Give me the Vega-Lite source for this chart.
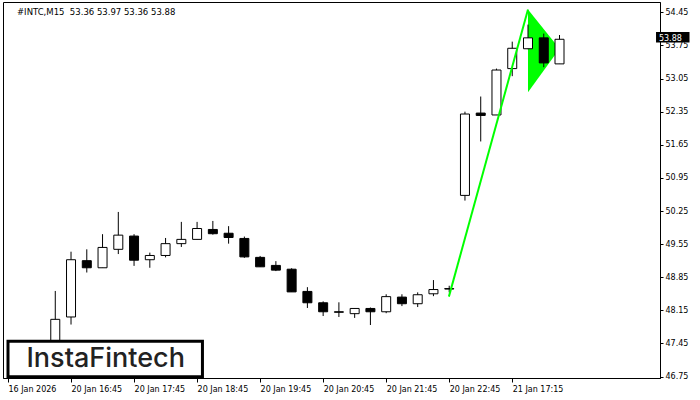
{
  "$schema": "https://vega.github.io/schema/vega-lite/v6.json",
  "width": 657,
  "height": 376,
  "autosize": {"type": "none"},
  "padding": {"left": 3, "top": 2, "right": 40, "bottom": 22},
  "background": "white",
  "view": {"stroke": "black", "strokeWidth": 1},
  "config": {
    "axis": {
      "labelOverlap": false,
      "labelFlush": false,
      "labelFont": "DejaVu Sans",
      "labelFontSize": 8,
      "labelColor": "black",
      "tickColor": "black",
      "domainColor": "black",
      "grid": false,
      "title": null,
      "zindex": 0
    }
  },
  "title": {
    "text": "#INTC,M15\u00a0 53.36 53.97 53.36 53.88",
    "anchor": "start",
    "frame": "group",
    "offset": -14,
    "dx": 14,
    "font": "DejaVu Sans",
    "fontSize": 8.5,
    "fontWeight": "normal",
    "color": "black"
  },
  "datasets": {
    "candles": [
      {"i": 3, "o": 47.30, "h": 48.56, "l": 47.20, "c": 47.96},
      {"i": 4, "o": 48.01, "h": 49.39, "l": 47.85, "c": 49.22},
      {"i": 5, "o": 49.20, "h": 49.44, "l": 48.95, "c": 49.05},
      {"i": 6, "o": 49.05, "h": 49.76, "l": 49.05, "c": 49.48},
      {"i": 7, "o": 49.44, "h": 50.23, "l": 49.34, "c": 49.74},
      {"i": 8, "o": 49.72, "h": 49.76, "l": 49.09, "c": 49.21},
      {"i": 9, "o": 49.22, "h": 49.37, "l": 49.05, "c": 49.31},
      {"i": 10, "o": 49.31, "h": 49.68, "l": 49.27, "c": 49.56},
      {"i": 11, "o": 49.56, "h": 50.02, "l": 49.49, "c": 49.65},
      {"i": 12, "o": 49.65, "h": 50.02, "l": 49.65, "c": 49.88},
      {"i": 13, "o": 49.86, "h": 50.04, "l": 49.75, "c": 49.77},
      {"i": 14, "o": 49.78, "h": 49.93, "l": 49.56, "c": 49.69},
      {"i": 15, "o": 49.67, "h": 49.71, "l": 49.26, "c": 49.28},
      {"i": 16, "o": 49.27, "h": 49.30, "l": 49.07, "c": 49.07},
      {"i": 17, "o": 49.10, "h": 49.19, "l": 48.98, "c": 49.00},
      {"i": 18, "o": 49.02, "h": 49.04, "l": 48.54, "c": 48.54},
      {"i": 19, "o": 48.55, "h": 48.64, "l": 48.20, "c": 48.31},
      {"i": 20, "o": 48.31, "h": 48.34, "l": 48.03, "c": 48.12},
      {"i": 21, "o": 48.12, "h": 48.32, "l": 48.01, "c": 48.11},
      {"i": 22, "o": 48.08, "h": 48.19, "l": 47.99, "c": 48.19},
      {"i": 23, "o": 48.19, "h": 48.21, "l": 47.84, "c": 48.12},
      {"i": 24, "o": 48.12, "h": 48.49, "l": 48.09, "c": 48.44},
      {"i": 25, "o": 48.43, "h": 48.49, "l": 48.24, "c": 48.29},
      {"i": 26, "o": 48.29, "h": 48.53, "l": 48.22, "c": 48.48},
      {"i": 27, "o": 48.50, "h": 48.79, "l": 48.45, "c": 48.59},
      {"i": 28, "o": 48.61, "h": 48.67, "l": 48.53, "c": 48.60},
      {"i": 29, "o": 50.58, "h": 52.35, "l": 50.47, "c": 52.30},
      {"i": 30, "o": 52.32, "h": 52.67, "l": 51.72, "c": 52.27},
      {"i": 31, "o": 52.28, "h": 53.26, "l": 52.28, "c": 53.23},
      {"i": 32, "o": 53.26, "h": 53.83, "l": 53.10, "c": 53.69},
      {"i": 33, "o": 53.68, "h": 54.19, "l": 53.67, "c": 53.91},
      {"i": 34, "o": 53.91, "h": 54.00, "l": 53.29, "c": 53.38},
      {"i": 35, "o": 53.36, "h": 53.97, "l": 53.36, "c": 53.88}
    ],
    "pennant": [
      {"i": 33, "hi": 54.51, "lo": 52.76},
      {"i": 35, "hi": 53.68, "lo": 53.68}
    ],
    "pole": [
      {"i": 27.98, "v": 48.44},
      {"i": 33, "v": 54.51}
    ],
    "logo": [
      {"x1": 0, "x2": 12.34, "y1": 46.745, "y2": 47.495, "tx": 6.2, "ty": 47.13, "label": "InstaFintech"}
    ],
    "pricetag": [
      {"x1": 41.125, "x2": 43.25, "y1": 53.812, "y2": 54.034, "tx": 41.31, "price": 53.88}
    ]
  },
  "encoding": {
    "x": {
      "type": "quantitative",
      "scale": {"domain": [0, 41.06], "nice": false, "zero": false},
      "axis": {
        "orient": "bottom",
        "values": [0, 4, 8, 12, 16, 20, 24, 28, 32],
        "labelExpr": "{'0':'16 Jan 2026','4':'20 Jan 16:45','8':'20 Jan 17:45','12':'20 Jan 18:45','16':'20 Jan 19:45','20':'20 Jan 20:45','24':'20 Jan 21:45','28':'20 Jan 22:45','32':'21 Jan 17:15'}[datum.value]",
        "labelAlign": "left",
        "labelBaseline": "top",
        "labelPadding": 3,
        "tickSize": 4
      }
    },
    "y": {
      "type": "quantitative",
      "scale": {"domain": [46.72, 54.668], "nice": false, "zero": false},
      "axis": {
        "orient": "right",
        "values": [46.75, 47.45, 48.15, 48.85, 49.55, 50.25, 50.95, 51.65, 52.35, 53.05, 53.75, 54.45],
        "format": ".2f",
        "labelAlign": "left",
        "labelBaseline": "middle",
        "labelPadding": 2,
        "tickSize": 3
      }
    }
  },
  "layer": [
    {
      "data": {"name": "pennant"},
      "mark": {"type": "area", "color": "#00ff00", "opacity": 1, "interpolate": "linear"},
      "encoding": {
        "x": {"field": "i", "type": "quantitative"},
        "y": {"field": "hi", "type": "quantitative"},
        "y2": {"field": "lo"}
      }
    },
    {
      "mark": {"type": "rule", "color": "black", "strokeWidth": 1},
      "encoding": {"y": {"datum": 53.88}, "x": null}
    },
    {
      "data": {"name": "candles"},
      "mark": {"type": "rule", "color": "black", "strokeWidth": 1},
      "encoding": {
        "x": {"field": "i", "type": "quantitative"},
        "y": {"field": "l", "type": "quantitative"},
        "y2": {"field": "h"}
      }
    },
    {
      "data": {"name": "candles"},
      "mark": {"type": "bar", "width": 9, "stroke": "black", "strokeWidth": 1},
      "encoding": {
        "x": {"field": "i", "type": "quantitative"},
        "y": {"field": "o", "type": "quantitative"},
        "y2": {"field": "c"},
        "fill": {"condition": {"test": "datum.c >= datum.o", "value": "white"}, "value": "black"}
      }
    },
    {
      "data": {"name": "pole"},
      "mark": {"type": "line", "color": "#00ff00", "strokeWidth": 2},
      "encoding": {
        "x": {"field": "i", "type": "quantitative"},
        "y": {"field": "v", "type": "quantitative"}
      }
    },
    {
      "data": {"name": "logo"},
      "mark": {"type": "rect", "fill": "white", "stroke": "black", "strokeWidth": 3},
      "encoding": {
        "x": {"field": "x1", "type": "quantitative"},
        "x2": {"field": "x2"},
        "y": {"field": "y1", "type": "quantitative"},
        "y2": {"field": "y2"}
      }
    },
    {
      "data": {"name": "logo"},
      "mark": {"type": "text", "font": "Inter", "fontSize": 27, "fontWeight": 500, "color": "#222222", "align": "center", "baseline": "middle"},
      "encoding": {
        "x": {"field": "tx", "type": "quantitative"},
        "y": {"field": "ty", "type": "quantitative"},
        "text": {"field": "label"}
      }
    },
    {
      "data": {"name": "pricetag"},
      "mark": {"type": "rect", "fill": "black", "clip": false},
      "encoding": {
        "x": {"field": "x1", "type": "quantitative"},
        "x2": {"field": "x2"},
        "y": {"field": "y1", "type": "quantitative"},
        "y2": {"field": "y2"}
      }
    },
    {
      "data": {"name": "pricetag"},
      "mark": {"type": "text", "font": "DejaVu Sans", "fontSize": 8, "color": "white", "align": "left", "baseline": "middle", "clip": false},
      "encoding": {
        "x": {"field": "tx", "type": "quantitative"},
        "y": {"field": "price", "type": "quantitative"},
        "text": {"field": "price", "format": ".2f"}
      }
    }
  ]
}
